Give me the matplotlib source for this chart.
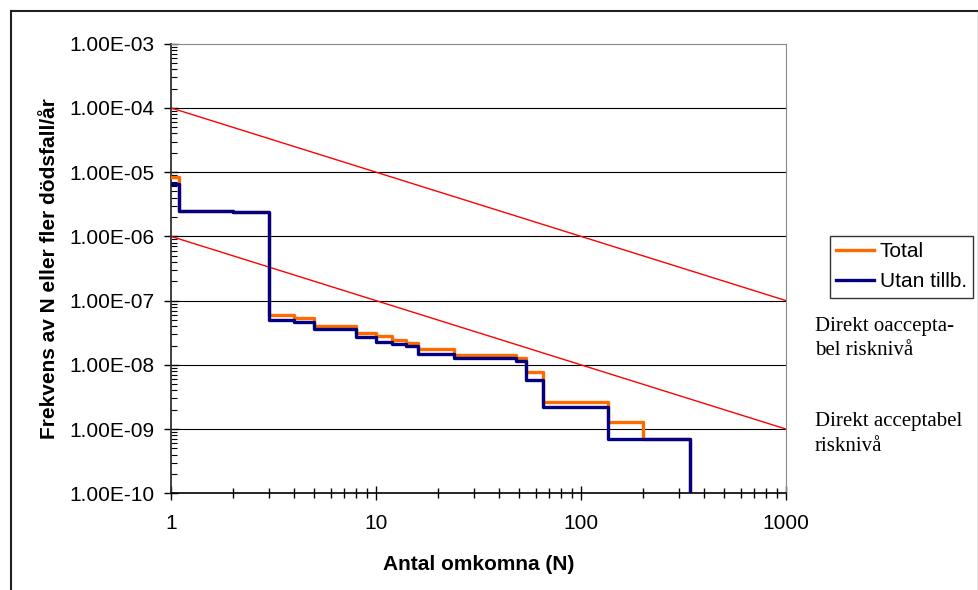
import matplotlib
matplotlib.use("Agg")
import matplotlib.pyplot as plt
from matplotlib.lines import Line2D
from matplotlib.ticker import FixedLocator, FuncFormatter, LogLocator, NullFormatter

plt.rcParams['font.family'] = ['Liberation Sans', 'DejaVu Sans']

# step curves: N (antal omkomna) and frequency of N or more deaths per year
n_steps = [1, 1.1, 2, 3, 4, 5, 8, 10, 12, 14, 16, 24, 48, 54, 65, 135, 200, 340]
freq_total = [8.5e-6, 2.48e-6, 2.37e-6, 5.9e-8, 5.3e-8, 4.0e-8, 3.15e-8, 2.8e-8,
              2.43e-8, 2.2e-8, 1.74e-8, 1.41e-8, 1.27e-8, 7.8e-9, 2.65e-9,
              1.29e-9, 7.0e-10, 1e-12]
freq_utan = [6.45e-6, 2.48e-6, 2.37e-6, 4.97e-8, 4.68e-8, 3.56e-8, 2.73e-8, 2.28e-8,
             2.1e-8, 1.95e-8, 1.45e-8, 1.26e-8, 1.15e-8, 5.9e-9, 2.22e-9,
             7.0e-10, 7.0e-10, 1e-12]

# risk criteria lines
crit_n = [1, 1000]
crit_upper = [1e-4, 1e-7]
crit_lower = [1e-6, 1e-9]

x_ticks = [1, 10, 100, 1000]
y_ticks = [1e-10, 1e-9, 1e-8, 1e-7, 1e-6, 1e-5, 1e-4, 1e-3]

FS = 15

fig = plt.figure(figsize=(9.79, 5.9), dpi=100)
ax = fig.add_axes([171 / 979, 1 - 493.3 / 590, (786 - 171) / 979, (493.3 - 43.7) / 590])

ax.set_xscale('log')
ax.set_yscale('log')
ax.set_xlim(1, 1000)
ax.set_ylim(1e-10, 1e-3)

for yt in y_ticks[1:-1]:
    ax.axhline(yt, color='black', lw=0.8, zorder=1)

ax.plot(crit_n, crit_upper, color='#FF0000', lw=1.0, zorder=2)
ax.plot(crit_n, crit_lower, color='#FF0000', lw=1.0, zorder=2)

ax.plot(n_steps, freq_total, drawstyle='steps-post', color='#FF6A00', lw=2.4,
        label='Total', zorder=3)
ax.plot(n_steps, freq_utan, drawstyle='steps-post', color='#000080', lw=2.4,
        label='Utan tillb.', zorder=4)

ax.xaxis.set_major_locator(FixedLocator(x_ticks))
ax.xaxis.set_major_formatter(FuncFormatter(lambda v, p: f"{v:g}"))
ax.xaxis.set_minor_locator(LogLocator(base=10, subs=range(2, 10)))
ax.xaxis.set_minor_formatter(NullFormatter())
ax.yaxis.set_major_locator(FixedLocator(y_ticks))
ax.yaxis.set_major_formatter(FuncFormatter(lambda v, p: f"{v:.2E}"))
ax.yaxis.set_minor_locator(LogLocator(base=10, subs=range(2, 10), numticks=20))
ax.yaxis.set_minor_formatter(NullFormatter())

ax.tick_params(axis='x', which='major', direction='inout', length=10, width=1,
               labelsize=FS, pad=10)
ax.tick_params(axis='x', which='minor', direction='inout', length=7, width=1)
ax.tick_params(axis='y', which='major', direction='inout', length=10, width=1,
               labelsize=FS, pad=7)
ax.tick_params(axis='y', which='minor', direction='in', length=4, width=0.8)

ax.spines['left'].set_color('#303030')
ax.spines['left'].set_linewidth(1.3)
ax.spines['bottom'].set_color('black')
ax.spines['bottom'].set_linewidth(1.2)
ax.spines['top'].set_color('#888888')
ax.spines['right'].set_color('#888888')

ax.set_xlabel('Antal omkomna (N)', fontsize=FS, fontweight='bold', labelpad=16)
ax.set_ylabel('Frekvens av N eller fler dödsfall/år', fontsize=FS, fontweight='bold',
              labelpad=7)

leg = ax.legend(loc='upper left', bbox_to_anchor=(830 / 979, 1 - 235.7 / 590),
                bbox_transform=fig.transFigure, fontsize=FS, frameon=True,
                fancybox=False, borderpad=0.3, handlelength=1.8, handletextpad=0.3,
                labelspacing=0.55, borderaxespad=0)
leg.get_frame().set_edgecolor('black')
leg.get_frame().set_linewidth(1.0)

fig.text(815 / 979, 1 - 338.3 / 590, 'Direkt oaccepta-\nbel risknivå',
         family='Liberation Serif', fontsize=FS, va='center', ha='left', linespacing=1.4)
fig.text(815 / 979, 1 - 434.2 / 590, 'Direkt acceptabel\nrisknivå',
         family='Liberation Serif', fontsize=FS, va='center', ha='left', linespacing=1.4)

# outer chart frame (cut off at the bottom)
fig.add_artist(Line2D([11 / 979, 11 / 979], [0, 1 - 11 / 590], color='#202020', lw=1.5,
                      transform=fig.transFigure))
fig.add_artist(Line2D([11 / 979, 978 / 979], [1 - 11 / 590, 1 - 11 / 590], color='#202020',
                      lw=1.5, transform=fig.transFigure))
fig.add_artist(Line2D([978 / 979, 978 / 979], [0, 1 - 11 / 590], color='#808080', lw=1.0,
                      transform=fig.transFigure))

fig.savefig('out.png', dpi=100)
